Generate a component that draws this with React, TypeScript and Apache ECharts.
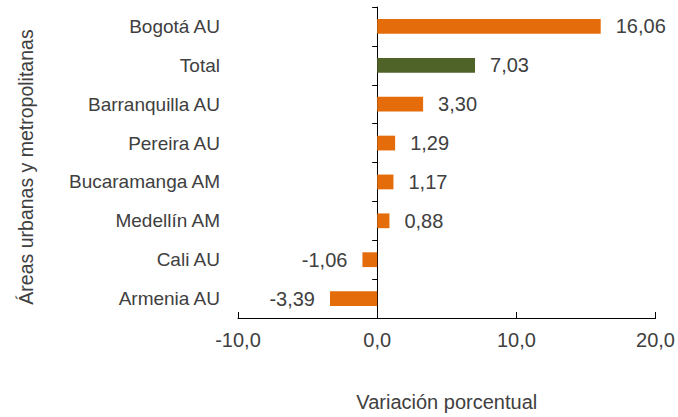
import React, { useEffect, useRef } from "react";
import * as echarts from "echarts";

const categories = ["Bogotá AU", "Total", "Barranquilla AU", "Pereira AU", "Bucaramanga AM", "Medellín AM", "Cali AU", "Armenia AU"];
const values = [16.06, 7.03, 3.3, 1.29, 1.17, 0.88, -1.06, -3.39];
const xTicks = [-10, 0, 10, 20];
const yTitle = "Áreas urbanas y metropolitanas";
const xTitle = "Variación porcentual";
const ORANGE = "#E46C0A";
const GREEN = "#4F6228";
const TXT = "#404040";
const FONT = "Arial, 'Liberation Sans', sans-serif";
const FS = 20;

export default function App() {
  const ref = useRef<HTMLDivElement>(null);
  useEffect(() => {
    const chart = echarts.init(ref.current!, null, { renderer: "svg" });
    const fmt = (v: number) => v.toFixed(2).replace(".", ",");
    chart.setOption({
      animation: false,
      textStyle: { fontFamily: FONT },
      grid: { left: 238, right: 21, top: 7, bottom: 95 },
      graphic: [
        {
          type: "text",
          x: 26,
          y: 167,
          rotation: Math.PI / 2,
          style: {
            text: yTitle,
            fill: TXT,
            fontSize: 19.5,
            fontFamily: FONT,
            align: "center",
            verticalAlign: "middle",
          },
        },
      ],
      xAxis: {
        type: "value",
        min: xTicks[0],
        max: xTicks[xTicks.length - 1],
        interval: 10,
        splitLine: { show: false },
        axisLine: { show: true, onZero: false, lineStyle: { color: "#000", width: 1 } },
        axisTick: { show: true, inside: true, length: 6, lineStyle: { color: "#000" } },
        axisLabel: { color: TXT, fontSize: FS, fontFamily: FONT, margin: 12, formatter: (v: number) => v.toFixed(1).replace(".", ",") },
        name: xTitle,
        nameLocation: "middle",
        nameGap: 74,
        nameTextStyle: { color: TXT, fontSize: FS, fontFamily: FONT },
      },
      yAxis: [
        {
          type: "category",
          inverse: true,
          data: categories,
          axisLine: { show: false, onZero: false },
          axisTick: { show: false },
          axisLabel: { color: TXT, fontSize: 19, fontFamily: FONT, margin: 18 },
        },
        {
          type: "category",
          inverse: true,
          position: "left",
          data: categories,
          axisLine: { show: true, onZero: true, lineStyle: { color: "#000", width: 1 } },
          axisTick: { show: true, length: 5, lineStyle: { color: "#000" } },
          axisLabel: { show: false },
        },
      ],
      series: [
        {
          type: "bar",
          yAxisIndex: 0,
          barWidth: "38%",
          data: values.map((v, i) => ({
            value: v,
            itemStyle: { color: categories[i] === "Total" ? GREEN : ORANGE },
            label: { position: v < 0 ? "left" : "right" },
          })),
          label: {
            show: true,
            color: TXT,
            fontSize: FS,
            fontFamily: FONT,
            distance: 15,
            formatter: (p: any) => fmt(p.value),
          },
        },
      ],
    });
    return () => chart.dispose();
  }, []);
  return <div ref={ref} style={{ width: 678, height: 417, position: "absolute", left: 0, top: 0, background: "#fff" }} />;
}
